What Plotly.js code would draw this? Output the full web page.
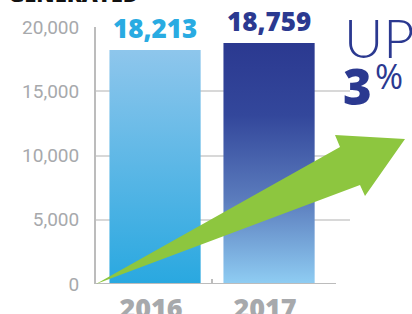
<!DOCTYPE html>
<html>
<head>
<meta charset="utf-8">
<script src="https://cdn.plot.ly/plotly-3.0.1.min.js"></script>
<style>html,body{margin:0;padding:0;background:#fff;overflow:hidden}#chart{width:412px;height:314px}</style>
</head>
<body>
<div id="chart"></div>
<script>
// ---- data ----
const years = ['2016', '2017'];
const totals = [18213, 18759];
const yTickVals = [0, 5000, 10000, 15000, 20000];
const yTickText = ['0', '5,000', '10,000', '15,000', '20,000'];
const labelColors = ['#29abe2', '#2b3990'];
const barScales = [
  [[0, '#29a8e0'], [1, '#8ec6ec']],
  [[0, '#8fcdf3'], [0.35, '#5b7cbd'], [0.7, '#33479b'], [1, '#2b3990']]
];
const headline = 'UP';
const pctText = '3';
const titleText = 'GENERATED';

// ---- layout geometry ----
const W = 412, H = 314;
const M = {l: 96, r: 62, t: 27, b: 30};
const PW = W - M.l - M.r, PH = H - M.t - M.b;
const px = x => (x - M.l) / PW;
const py = y => (H - M.b - y) / PH;
const P = (x, y) => px(x) + ',' + py(y);
const HW = 0.4;
const xRange = [-0.518, -0.518 + PW / 114];

const traces = totals.map((v, i) => ({
  type: 'scatter', mode: 'lines', fill: 'toself',
  x: [i - HW, i + HW, i + HW, i - HW, i - HW],
  y: [0, 0, v, v, 0],
  line: {width: 0, color: 'rgba(0,0,0,0)'},
  fillcolor: labelColors[i],
  fillgradient: {type: 'vertical', colorscale: barScales[i]},
  hoverinfo: 'skip', showlegend: false
}));

const annotations = totals.map((v, i) => ({
  x: i, y: v, xref: 'x', yref: 'y', xanchor: 'center', yanchor: 'bottom',
  yshift: 2, showarrow: false,
  text: v.toLocaleString('en-US'),
  font: {family: 'Open Sans, sans-serif', size: 26, weight: 800, color: labelColors[i]}
}));
annotations.push(
  {xref: 'paper', yref: 'paper', x: px(342), y: py(3), xanchor: 'left', yanchor: 'top', showarrow: false,
   text: headline, font: {family: 'Lato, sans-serif', size: 54, weight: 300, color: '#2b3990'}},
  {xref: 'paper', yref: 'paper', x: px(341), y: py(51), xanchor: 'left', yanchor: 'top', showarrow: false,
   text: pctText, font: {family: 'Open Sans, sans-serif', size: 49, weight: 800, color: '#2b3990'}},
  {xref: 'paper', yref: 'paper', x: px(373), y: py(51), xanchor: 'left', yanchor: 'top', showarrow: false,
   text: '%', font: {family: 'Open Sans, sans-serif', size: 34, weight: 400, color: '#2b3990'}},
  {xref: 'paper', yref: 'paper', x: px(6), y: py(10.5), xanchor: 'left', yanchor: 'bottom', showarrow: false,
   text: titleText, font: {family: 'Open Sans, sans-serif', size: 22, weight: 800, color: '#111'}}
);

const shapes = [
  {type: 'line', xref: 'paper', yref: 'y', x0: 0, x1: px(336), y0: 0, y1: 0,
   line: {color: '#bcbcbc', width: 2}, layer: 'above'},
  {type: 'path', xref: 'paper', yref: 'paper',
   path: 'M' + P(96, 284) + ' L' + P(340, 147) + ' L' + P(335, 135) + ' L' + P(405, 139) +
         ' L' + P(365, 196) + ' L' + P(360, 185) + ' Z',
   fillcolor: '#8dc63f', line: {width: 0}, layer: 'above'}
];

const layout = {
  width: W, height: H, margin: M,
  paper_bgcolor: '#fff', plot_bgcolor: '#fff', showlegend: false,
  xaxis: {
    range: xRange, tickvals: [0, 1], ticktext: years, showgrid: false, zeroline: false,
    showline: false, ticks: '', ticklabelshift: -4, ticklabelstandoff: 6,
    tickfont: {family: 'Open Sans, sans-serif', size: 27, weight: 800, color: '#a7a9ac'},
    minor: {tickvals: [0.5], ticks: 'inside', ticklen: 5, tickcolor: '#bcbcbc', tickwidth: 2},
    fixedrange: true
  },
  yaxis: {
    range: [0, 20000], tickvals: yTickVals, ticktext: yTickText,
    showgrid: true, gridcolor: '#d8d8d8', gridwidth: 2, zeroline: false,
    showline: true, linecolor: '#bcbcbc', linewidth: 2, ticks: '', ticklabelstandoff: 11,
    tickfont: {family: 'Roboto, sans-serif', size: 19, stretch: 'condensed', color: '#a7a9ac'},
    fixedrange: true
  },
  annotations: annotations, shapes: shapes
};

Plotly.newPlot('chart', traces, layout, {displayModeBar: false, staticPlot: true});
</script>
</body>
</html>
